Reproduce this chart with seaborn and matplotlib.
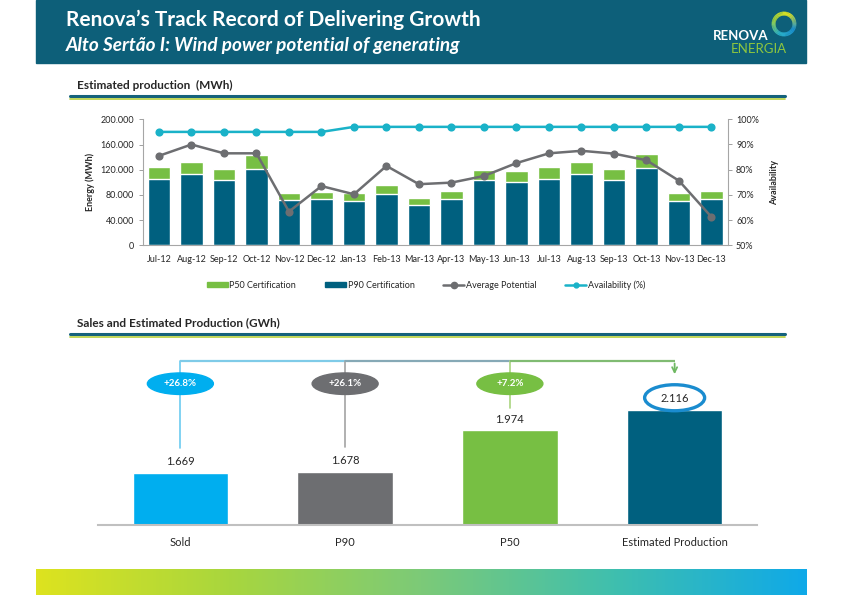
import matplotlib
matplotlib.use('Agg')
import matplotlib.pyplot as plt
import seaborn as sns
import pandas as pd
import numpy as np
from matplotlib.patches import Rectangle, Ellipse, Patch, Wedge
from matplotlib.lines import Line2D
from matplotlib.ticker import FuncFormatter, FixedLocator
from matplotlib.colors import LinearSegmentedColormap

# ---- data ----
months = ['Jul-12', 'Aug-12', 'Sep-12', 'Oct-12', 'Nov-12', 'Dec-12', 'Jan-13', 'Feb-13', 'Mar-13',
          'Apr-13', 'May-13', 'Jun-13', 'Jul-13', 'Aug-13', 'Sep-13', 'Oct-13', 'Nov-13', 'Dec-13']
p50_cert = [124000, 132000, 121500, 143500, 83500, 85000, 83000, 96500, 75000,
            86000, 120000, 118000, 124000, 132000, 121500, 145000, 83500, 86000]
p90_cert = [106000, 113000, 104000, 121500, 71500, 73000, 71000, 82000, 63500,
            73000, 103500, 100000, 106000, 113000, 104000, 122000, 71000, 73000]
avg_potential = [142000, 160000, 146000, 146000, 53500, 94000, 81000, 126000, 97000,
                 99500, 110000, 130500, 146000, 150000, 145500, 135000, 102500, 45000]
availability = [95, 95, 95, 95, 95, 95, 97, 97, 97, 97, 97, 97, 97, 97, 97, 97, 97, 97]

stages = ['Sold', 'P90', 'P50', 'Estimated Production']
gwh = [1669, 1678, 1974, 2116]

# ---- style ----
sns.set_style('white')
plt.rcParams['font.family'] = ['Lato', 'DejaVu Sans']

GREEN = '#77bf43'
TEAL = '#00607f'
GREY = '#6d6e71'
CYAN = '#1ab2c8'
BLUE = '#00aeef'
TXT = '#262626'

W, H = 842, 595
fx = lambda x: x / W
fy = lambda y: 1 - y / H

fig = plt.figure(figsize=(8.42, 5.95), dpi=100)

# header banner
fig.add_artist(Rectangle((fx(36), fy(63)), fx(806) - fx(36), 63 / H, transform=fig.transFigure,
                         color='#0d5f79', zorder=0))
fig.text(fx(66), fy(20), 'Renova\u2019s Track Record of Delivering Growth', color='white',
         fontsize=15, fontweight='bold', va='center', ha='left')
fig.text(fx(66), fy(45), 'Alto Sert\u00e3o I: Wind power potential of generating', color='white',
         fontsize=13.7, fontweight='bold', style='italic', va='center', ha='left')
fig.text(fx(741), fy(36), 'RENOVA', color='white', fontsize=9.5, fontweight='bold', ha='center', va='center')
fig.text(fx(759), fy(49), 'ENERGIA', color='#8dc63f', fontsize=9.5, ha='center', va='center')

# logo ring
lax = fig.add_axes([fx(771), fy(37), 26 / W, 26 / H])
lax.set_xlim(-1.05, 1.05)
lax.set_ylim(-1.05, 1.05)
lax.set_aspect('equal')
lax.axis('off')
ring_cmap = LinearSegmentedColormap.from_list('ring', ['#e3e41f', '#9fd03c', '#2bb3c9', '#1a8fd0', '#e3e41f'])
for a in range(0, 360, 6):
    lax.add_patch(Wedge((0, 0), 1, a, a + 7, width=0.32, color=ring_cmap(((a + 300) % 360) / 360), lw=0))

# section headers
def section(y, label):
    fig.text(fx(77), fy(y), label, fontsize=8.5, fontweight='bold', color=TXT, va='center')
    fig.add_artist(Line2D([fx(70), fx(785)], [fy(y + 10.5)] * 2, color='#15627c', lw=2.2))
    fig.add_artist(Line2D([fx(70), fx(785)], [fy(y + 13.5)] * 2, color='#b7cf3c', lw=1.2))

section(85, 'Estimated production  (MWh)')
section(323, 'Sales and Estimated Production (GWh)')

# ---- top chart ----
df = pd.DataFrame({'month': months, 'p50': p50_cert, 'p90': p90_cert,
                   'avg': avg_potential, 'avail': availability})

ax = fig.add_axes([fx(142.7), fy(245.3), 585 / W, 126 / H])
sns.barplot(data=df, x='month', y='p50', color=GREEN, width=0.7, saturation=1, ax=ax)
sns.barplot(data=df, x='month', y='p90', color=TEAL, width=0.7, saturation=1, ax=ax)
sns.pointplot(data=df, x='month', y='avg', color=GREY, markers='o', markersize=4.5,
              linewidth=1.8, errorbar=None, ax=ax)
ax.set_ylim(0, 200000)
ax.set_xlim(-0.5, len(months) - 0.5)
ax.yaxis.set_major_locator(FixedLocator(np.arange(0, 200001, 40000)))
ax.yaxis.set_major_formatter(FuncFormatter(lambda v, p: f'{int(v):,}'.replace(',', '.')))
ax.set_xlabel('')
ax.set_ylabel('Energy (MWh)', fontsize=6.5, fontweight='bold', color=TXT, labelpad=4)

ax2 = ax.twinx()
sns.pointplot(data=df, x='month', y='avail', color=CYAN, markers='o', markersize=4.5,
              linewidth=1.8, errorbar=None, ax=ax2)
ax2.set_ylim(50, 100)
ax2.set_xlim(-0.5, len(months) - 0.5)
ax2.yaxis.set_major_locator(FixedLocator(np.arange(50, 101, 10)))
ax2.yaxis.set_major_formatter(FuncFormatter(lambda v, p: f'{int(v)}%'))
ax2.set_ylabel('Availability', fontsize=6.5, fontweight='bold', color=TXT, labelpad=8)
ax2.set_xlabel('')

for a in (ax, ax2):
    for s in a.spines.values():
        s.set_visible(False)
    a.tick_params(axis='y', labelsize=6.5, colors='#a0a0a0', labelcolor=TXT, length=3, width=0.7, pad=3)
ax.spines['left'].set_visible(True)
ax.spines['bottom'].set_visible(True)
ax2.spines['right'].set_visible(True)
for s in (ax.spines['left'], ax.spines['bottom'], ax2.spines['right']):
    s.set_color('#a6a6a6')
    s.set_linewidth(0.8)
ax.set_xticks(range(len(months)))
ax.set_xticklabels(months)
ax.set_xticks(np.arange(-0.5, len(months), 1), minor=True)
ax.tick_params(axis='x', which='major', length=0, labelsize=6.5, labelcolor=TXT, pad=7)
ax.tick_params(axis='x', which='minor', length=3, width=0.7, color='#a6a6a6')

handles = [Patch(color=GREEN), Patch(color=TEAL),
           Line2D([], [], color=GREY, marker='o', markersize=4.5, lw=1.8),
           Line2D([], [], color=CYAN, marker='o', markersize=3.5, lw=1.8)]
fig.legend(handles, ['P50 Certification', 'P90 Certification', 'Average Potential', 'Availability (%)'],
           loc='center', bbox_to_anchor=(fx(426), fy(285)), ncol=4, frameon=False, fontsize=6.5,
           handlelength=2.3, handleheight=0.35, handletextpad=0.2, columnspacing=3.2)

# ---- bottom chart ----
bx = fig.add_axes([fx(98), fy(525), 659 / W, 180 / H])
sns.barplot(x=stages, y=gwh, hue=stages, palette=[BLUE, GREY, GREEN, TEAL], width=0.58,
            saturation=1, legend=False, ax=bx)
bx.set_ylim(1298, 2581)
bx.set_xlim(-0.5, len(stages) - 0.5)
bx.set_yticks([])
for s in ('left', 'right', 'top'):
    bx.spines[s].set_visible(False)
bx.spines['bottom'].set_color('#c0c0c0')
bx.spines['bottom'].set_linewidth(1.5)
bx.set_xticks(np.arange(-0.5, len(stages), 1), minor=True)
bx.tick_params(axis='x', which='major', length=0, labelsize=8, labelcolor=TXT, pad=9)
bx.tick_params(axis='x', which='minor', length=4, width=1.2, color='#c0c0c0')

px = 0.1403  # pixels per GWh on this axis
fmt = lambda v: f'{v:,}'.replace(',', '.')
connector_y = 1298 + (525 - 360.7) / px
bubble_y = 1298 + (525 - 383.7) / px
line_cols = ['#6ccbf0', '#a3a3a3', '#a9d47f']
conn_cols = ['#7fcbe8', '#86a9b6', '#80bb72']
bubble_cols = [BLUE, GREY, GREEN]
target = gwh[-1]
for i, v in enumerate(gwh[:-1]):
    bx.text(i, v + 11 / px, fmt(v), ha='center', va='center', fontsize=8, color=TXT)
    gap = 25 if i < 2 else 22
    bx.plot([i, i], [v + gap / px, connector_y], color=line_cols[i], lw=1.2, zorder=1, clip_on=False)
    bx.plot([i, i + 1], [connector_y, connector_y], color=conn_cols[i], lw=1.6, zorder=1, clip_on=False,
            solid_capstyle='butt')
    bx.add_patch(Ellipse((i, bubble_y), 66 / 164.75, 21.5 / px, color=bubble_cols[i], zorder=3, clip_on=False))
    bx.text(i, bubble_y, f'+{(target / v - 1) * 100:.1f}%', ha='center', va='center', fontsize=7,
            fontweight='bold', color='white', zorder=4)

last = len(gwh) - 1
bx.annotate('', xy=(last, 1298 + (525 - 377) / px), xytext=(last, connector_y),
            arrowprops=dict(arrowstyle='->', color='#6fb862', lw=1.3, mutation_scale=9), annotation_clip=False)
bx.add_patch(Ellipse((last, target + 12.5 / px), 60 / 164.75, 26 / px, facecolor='white',
                     edgecolor='#1a8ccf', lw=2.4, zorder=3, clip_on=False))
bx.text(last, target + 12 / px, fmt(target), ha='center', va='center', fontsize=8, color=TXT, zorder=4)

# footer gradient
gax = fig.add_axes([fx(36), 0, (806 - 36) / W, 26 / H])
foot = LinearSegmentedColormap.from_list('foot', ['#dde31f', '#a8d63e', '#7cca78', '#3fbfae', '#0fa9e8'])
gax.imshow(np.linspace(0, 1, 256)[None, :], aspect='auto', cmap=foot, extent=(0, 1, 0, 1))
gax.axis('off')

fig.savefig('out.png', dpi=100)
